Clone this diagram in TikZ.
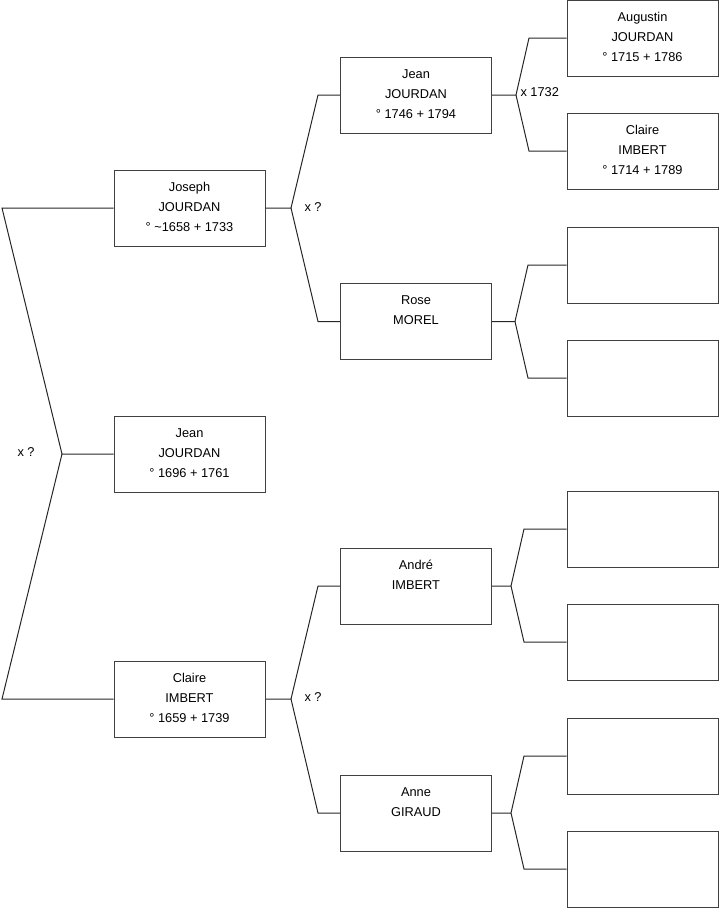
\documentclass[tikz,border=0pt]{standalone}
\usepackage{fontspec}
\setmainfont{Liberation Sans}
\usetikzlibrary{positioning}

\begin{document}
\begin{tikzpicture}[
  x=1pt, y=-1pt,
  font=\fontsize{12.8}{20}\selectfont,
  line width=1pt,
  person/.style={draw=black!75, minimum width=151pt, minimum height=76pt, inner sep=0pt},
  who/.style={anchor=north, align=center, inner sep=0pt, yshift=-12.5pt},
  link/.style={draw=black!85},
  wed/.style={anchor=west, inner sep=0pt},
]
\useasboundingbox (0,0) rectangle (719,908);

% Generation 1
\node[person, label={[who]north:{Jean\\JOURDAN\\° 1696 + 1761}}] (root) at (189.5,454) {};

% Generation 2
\node[person, label={[who]north:{Joseph\\JOURDAN\\° \textasciitilde1658 + 1733}}] (jo) at (189.5,208) {};
\node[person, label={[who]north:{Claire\\IMBERT\\° 1659 + 1739}}] (cl) at (189.5,699) {};

% Generation 3
\node[person, label={[who]north:{Jean\\JOURDAN\\° 1746 + 1794}}] (je) at (416,95) {};
\node[person, label={[who]north:{Rose\\MOREL}}] (ro) at (416,321.5) {};
\node[person, label={[who]north:{André\\IMBERT}}] (an) at (416,586) {};
\node[person, label={[who]north:{Anne\\GIRAUD}}] (ag) at (416,813) {};

% Generation 4
\node[person, label={[who]north:{Augustin\\JOURDAN\\° 1715 + 1786}}] (a1) at (642.5,38) {};
\node[person, label={[who]north:{Claire\\IMBERT\\° 1714 + 1789}}] (a2) at (642.5,151) {};
\node[person] (a3) at (642.5,265) {};
\node[person] (a4) at (642.5,378) {};
\node[person] (a5) at (642.5,529) {};
\node[person] (a6) at (642.5,642) {};
\node[person] (a7) at (642.5,756) {};
\node[person] (a8) at (642.5,869) {};

% Forks
\coordinate (fk0) at (62,454);  \coordinate (el0) at (2,454);
\coordinate (fk1) at (291,208); \coordinate (el1) at (318,208);
\coordinate (fk2) at (516,95);  \coordinate (el2) at (529,95);
\coordinate (fk3) at (515,321.5); \coordinate (el3) at (528,321.5);
\coordinate (fk4) at (291,699); \coordinate (el4) at (318,699);
\coordinate (fk5) at (511,586); \coordinate (el5) at (524,586);
\coordinate (fk6) at (511,813); \coordinate (el6) at (524,813);

\draw[link] (root.west) -- (fk0) -- (el0 |- jo.west) -- (jo.west);
\draw[link] (fk0) -- (el0 |- cl.west) -- (cl.west);

\draw[link] (jo.east) -- (fk1) -- (el1 |- je.west) -- (je.west);
\draw[link] (fk1) -- (el1 |- ro.west) -- (ro.west);

\draw[link] (je.east) -- (fk2) -- (el2 |- a1.west) -- (a1.west);
\draw[link] (fk2) -- (el2 |- a2.west) -- (a2.west);

\draw[link] (ro.east) -- (fk3) -- (el3 |- a3.west) -- (a3.west);
\draw[link] (fk3) -- (el3 |- a4.west) -- (a4.west);

\draw[link] (cl.east) -- (fk4) -- (el4 |- an.west) -- (an.west);
\draw[link] (fk4) -- (el4 |- ag.west) -- (ag.west);

\draw[link] (an.east) -- (fk5) -- (el5 |- a5.west) -- (a5.west);
\draw[link] (fk5) -- (el5 |- a6.west) -- (a6.west);

\draw[link] (ag.east) -- (fk6) -- (el6 |- a7.west) -- (a7.west);
\draw[link] (fk6) -- (el6 |- a8.west) -- (a8.west);

% Marriages
\node[wed] (m0) at (17,452) {x ?};
\node[wed] (m1) at (304,207) {x ?};
\node[wed] (m2) at (520,92) {x 1732};
\node[wed] (m4) at (304,697) {x ?};

\end{tikzpicture}
\end{document}
